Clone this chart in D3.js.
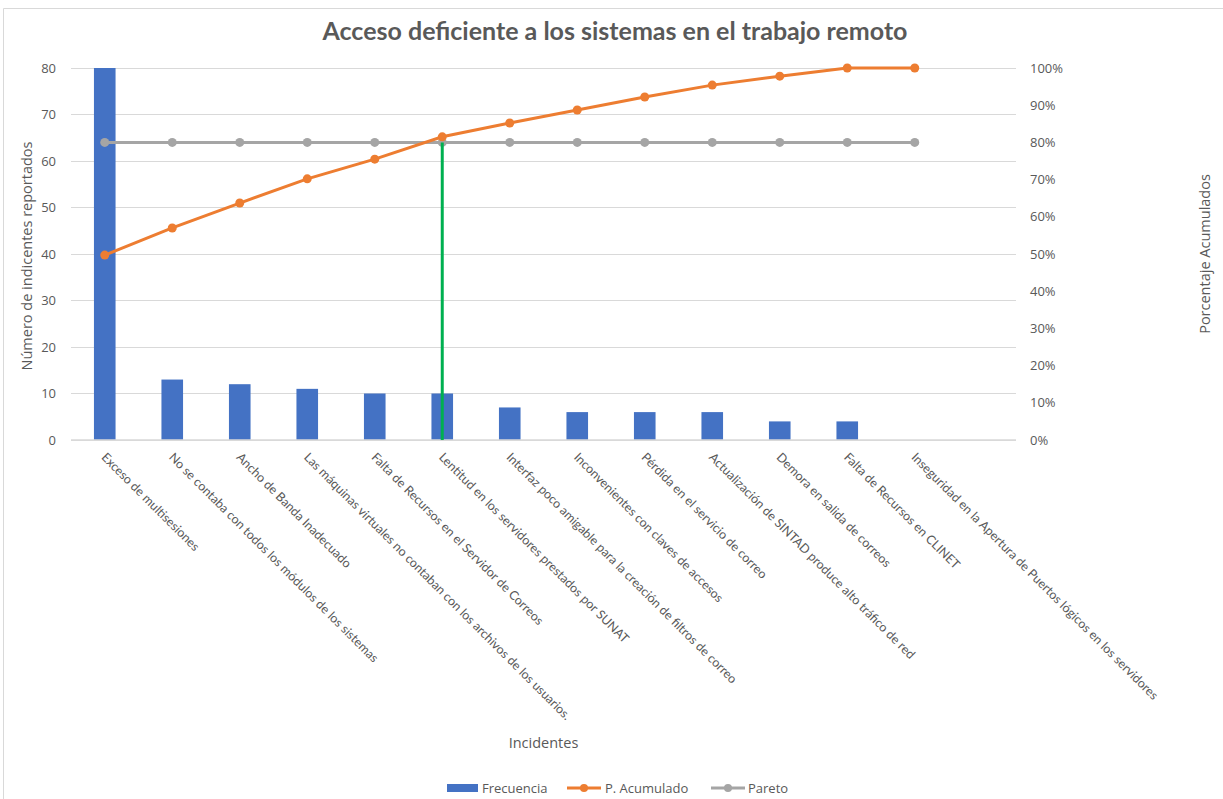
<!DOCTYPE html>
<html><head><meta charset="utf-8">
<script src="https://cdn.jsdelivr.net/npm/d3@7"></script>
<style>body{margin:0;background:#fff}svg{display:block}</style>
</head><body>
<svg id="c" width="1223" height="799"></svg>
<script>
const categories = [
  "Exceso de multisesiones",
  "No se contaba con todos los módulos de los sistemas",
  "Ancho de Banda Inadecuado",
  "Las máquinas virtuales no contaban con los archivos de los usuarios.",
  "Falta de Recursos en el Servidor de Correos",
  "Lentitud en los servidores prestados por SUNAT",
  "Interfaz poco amigable para la creación de filtros de correo",
  "Inconvenientes con claves de accesos",
  "Pérdida en el servicio de correo",
  "Actualización de SINTAD produce alto tráfico de red",
  "Demora en salida de correos",
  "Falta de Recursos en CLINET",
  "Inseguridad en la Apertura de Puertos lógicos en los servidores"
];
const frecuencia = [87, 13, 12, 11, 10, 10, 7, 6, 6, 6, 4, 4, 0];
const acumulado = [0.497, 0.570, 0.637, 0.702, 0.755, 0.815, 0.852, 0.887, 0.922, 0.954, 0.978, 1.0, 1.0];
const pareto = [0.8, 0.8, 0.8, 0.8, 0.8, 0.8, 0.8, 0.8, 0.8, 0.8, 0.8, 0.8, 0.8];
const leftTicks = [0, 10, 20, 30, 40, 50, 60, 70, 80];
const rightTicks = [0, 0.1, 0.2, 0.3, 0.4, 0.5, 0.6, 0.7, 0.8, 0.9, 1.0];
const corteIndex = 5;

const svg = d3.select("#c");
const L = 71, R = 1016, T = 68, B = 440;
const txt = "#595959", grid = "#d9d9d9";

// border
svg.append("path").attr("d", "M3.5,800 L3.5,8.5 L1230,8.5").attr("fill","none").attr("stroke","#d9d9d9").attr("stroke-width",1);

const x = d3.scaleBand().domain(categories.concat([" "])).range([L, R]).paddingInner(0.68).paddingOuter(0.34);
const yL = d3.scaleLinear().domain([0, 80]).range([B, T]);
const yR = d3.scaleLinear().domain([0, 1]).range([B, T]);
const cx = d => x(d) + x.bandwidth() / 2;

// gridlines
svg.append("g").selectAll("line").data(leftTicks).join("line")
  .attr("x1", L).attr("x2", R).attr("y1", d => yL(d)).attr("y2", d => yL(d))
  .attr("stroke", grid).attr("stroke-width", 1).attr("shape-rendering","crispEdges");

// left axis
const axL = svg.append("g").attr("transform", `translate(${L},0)`)
  .call(d3.axisLeft(yL).tickValues(leftTicks).tickSize(0).tickPadding(15));
axL.select(".domain").remove();
axL.selectAll("text").attr("fill", txt).style("font-family","'Open Sans', sans-serif").style("font-size","13px");

// right axis
const axR = svg.append("g").attr("transform", `translate(${R},0)`)
  .call(d3.axisRight(yR).tickValues(rightTicks).tickSize(0).tickPadding(14).tickFormat(d3.format(".0%")));
axR.select(".domain").remove();
axR.selectAll("text").attr("fill", txt).style("font-family","'Open Sans', sans-serif").style("font-size","13px");

// bars (clipped to plot area)
svg.append("clipPath").attr("id","clip").append("rect").attr("x",L).attr("y",T).attr("width",R-L).attr("height",B-T);
svg.append("g").attr("clip-path","url(#clip)").selectAll("rect").data(frecuencia).join("rect")
  .attr("x", (d,i) => x(categories[i])).attr("width", x.bandwidth())
  .attr("y", d => yL(d)).attr("height", d => B - yL(d))
  .attr("fill", "#4472C4");

// x axis line
svg.append("line").attr("x1",L).attr("x2",R).attr("y1",B).attr("y2",B).attr("stroke",grid).attr("stroke-width",1.5);

// category labels
svg.append("g").selectAll("text").data(categories).join("text")
  .attr("transform", d => `translate(${cx(d)-1},${B+15}) rotate(45)`)
  .attr("fill", txt).style("font-family","Lato, sans-serif").style("font-size","12.5px")
  .attr("dy","0.35em")
  .text(d => d);

// pareto line
const line = d3.line().x((d,i) => cx(categories[i])).y(d => yR(d));
svg.append("path").datum(pareto).attr("d", line).attr("fill","none").attr("stroke","#A5A5A5").attr("stroke-width",3);
svg.append("g").selectAll("circle").data(pareto).join("circle")
  .attr("cx",(d,i)=>cx(categories[i])).attr("cy",d=>yR(d)).attr("r",4.5).attr("fill","#A5A5A5");

// green cut line
svg.append("line").attr("x1", cx(categories[corteIndex])).attr("x2", cx(categories[corteIndex]))
  .attr("y1", yR(0.8)).attr("y2", B).attr("stroke","#00B050").attr("stroke-width",3);

// acumulado line
svg.append("path").datum(acumulado).attr("d", line).attr("fill","none").attr("stroke","#ED7D31").attr("stroke-width",3);
svg.append("g").selectAll("circle").data(acumulado).join("circle")
  .attr("cx",(d,i)=>cx(categories[i])).attr("cy",d=>yR(d)).attr("r",4.5).attr("fill","#ED7D31");

// title
svg.append("text").attr("x", 615).attr("y", 40).attr("text-anchor","middle")
  .attr("fill", txt).style("font-family","Lato, sans-serif").style("font-weight","bold").style("font-size","25px")
  .text("Acceso deficiente a los sistemas en el trabajo remoto");

// axis titles
svg.append("text").attr("transform", `translate(32,${(T+B)/2+2}) rotate(-90)`).attr("text-anchor","middle")
  .attr("fill", txt).style("font-family","'Open Sans', sans-serif").style("font-size","14.5px")
  .text("Número de indicentes reportados");
svg.append("text").attr("transform", `translate(1210,${(T+B)/2}) rotate(-90)`).attr("text-anchor","middle")
  .attr("fill", txt).style("font-family","'Open Sans', sans-serif").style("font-size","14.5px")
  .text("Porcentaje Acumulados");
svg.append("text").attr("x", (L+R)/2).attr("y", 748).attr("text-anchor","middle")
  .attr("fill", txt).style("font-family","'Open Sans', sans-serif").style("font-size","14.5px")
  .text("Incidentes");

// legend
const lg = svg.append("g").style("font-family","'Open Sans', sans-serif").style("font-size","13px");
lg.append("rect").attr("x",447).attr("y",784).attr("width",31).attr("height",8).attr("fill","#4472C4");
lg.append("text").attr("x",482).attr("y",793).attr("fill",txt).text("Frecuencia");
lg.append("line").attr("x1",567).attr("x2",601).attr("y1",788).attr("y2",788).attr("stroke","#ED7D31").attr("stroke-width",3);
lg.append("circle").attr("cx",584).attr("cy",788).attr("r",4).attr("fill","#ED7D31");
lg.append("text").attr("x",605).attr("y",793).attr("fill",txt).text("P. Acumulado");
lg.append("line").attr("x1",711).attr("x2",745).attr("y1",788).attr("y2",788).attr("stroke","#A5A5A5").attr("stroke-width",3);
lg.append("circle").attr("cx",728).attr("cy",788).attr("r",4).attr("fill","#A5A5A5");
lg.append("text").attr("x",748).attr("y",793).attr("fill",txt).text("Pareto");
</script>
</body></html>
